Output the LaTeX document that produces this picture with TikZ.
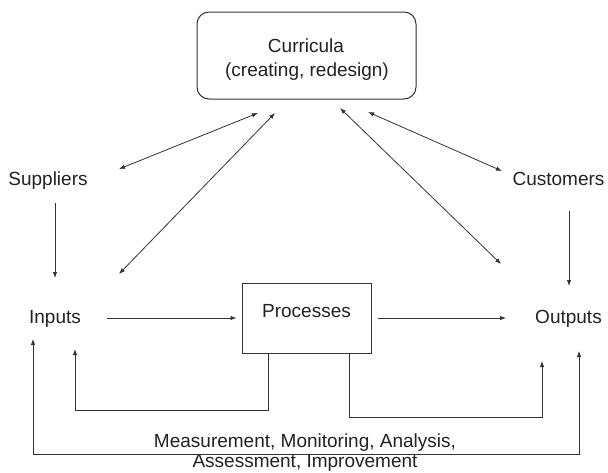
\documentclass[tikz,border=0pt]{standalone}
\usepackage{fontspec}
\setmainfont{Liberation Sans}
\usetikzlibrary{arrows.meta}
\definecolor{ink}{HTML}{222222}
\definecolor{wire}{HTML}{333333}
\begin{document}
\begin{tikzpicture}[x=1pt,y=-1pt,
  txt/.style={font=\fontsize{19}{23}\selectfont, text=ink, inner sep=0pt, anchor=base},
  box/.style={draw=wire, line width=1pt, inner sep=0pt},
  arr/.style={draw=wire, line width=0.9pt, -{Latex[length=6pt,width=4.5pt]}},
  biarr/.style={draw=wire, line width=0.8pt,
    {Latex[length=6pt,width=4.5pt]}-{Latex[length=6pt,width=4.5pt]}}
]
\useasboundingbox (0,0) rectangle (608,472);

% boxes and labels
\node[box, rounded corners=12pt, minimum width=219pt, minimum height=87pt] (cur) at (306.5,55.5) {};
\node[txt] (curA) at (306,52) {Curricula};
\node[txt] (curB) at (307,76) {(creating, redesign)};
\node[txt] (sup) at (48,185) {Suppliers};
\node[txt] (cus) at (558.5,185) {Customers};
\node[txt] (inp) at (55,323) {Inputs};
\node[txt] (out) at (568.5,323) {Outputs};
\node[box, minimum width=129pt, minimum height=70pt] (proc) at (306.5,318) {};
\node[txt] (procT) at (306.5,317) {Processes};
\node[txt] (m1) at (305,447) {Measurement, Monitoring, Analysis,};
\node[txt] (m2) at (305,467.5) {Assessment, Improvement};

% free ends of the connectors
\coordinate (s1) at (119,169); \coordinate (c1) at (258,113);
\coordinate (i1) at (119,274); \coordinate (c2) at (275,113);
\coordinate (o1) at (501,264); \coordinate (c3) at (340,108);
\coordinate (u1) at (502,171); \coordinate (c4) at (368,112);
\coordinate (sB) at (55,203);  \coordinate (iT) at (55,278);
\coordinate (uB) at (569,211); \coordinate (oT) at (569,286);
\coordinate (iR) at (107,318); \coordinate (oL) at (506,318);
\coordinate (iU) at (75,349);  \coordinate (lb) at (75,410);
\coordinate (oU) at (542,361); \coordinate (rb) at (542,417);
\coordinate (iUU) at (33,339); \coordinate (bl) at (33,454);
\coordinate (oUU) at (579,351); \coordinate (br) at (579,454);

% links with the curricula
\draw[biarr] (s1) -- (c1);
\draw[biarr] (i1) -- (c2);
\draw[biarr] (o1) -- (c3);
\draw[biarr] (u1) -- (c4);

% main flow
\draw[arr] (sB) -- (iT);
\draw[arr] (uB) -- (oT);
\draw[arr, shorten >=5pt] (iR) -- (proc.west |- iR);
\draw[arr, shorten <=6pt] (proc.east |- oL) -- (oL);

% feedback loops
\draw[arr] ([xshift=26.5pt]proc.south west) |- (lb) -- (iU);
\draw[arr] ([xshift=-22pt]proc.south east) |- (rb) -- (oU);
\draw[biarr] (iUU) -- (bl) -- (br) -- (oUU);
\end{tikzpicture}
\end{document}
